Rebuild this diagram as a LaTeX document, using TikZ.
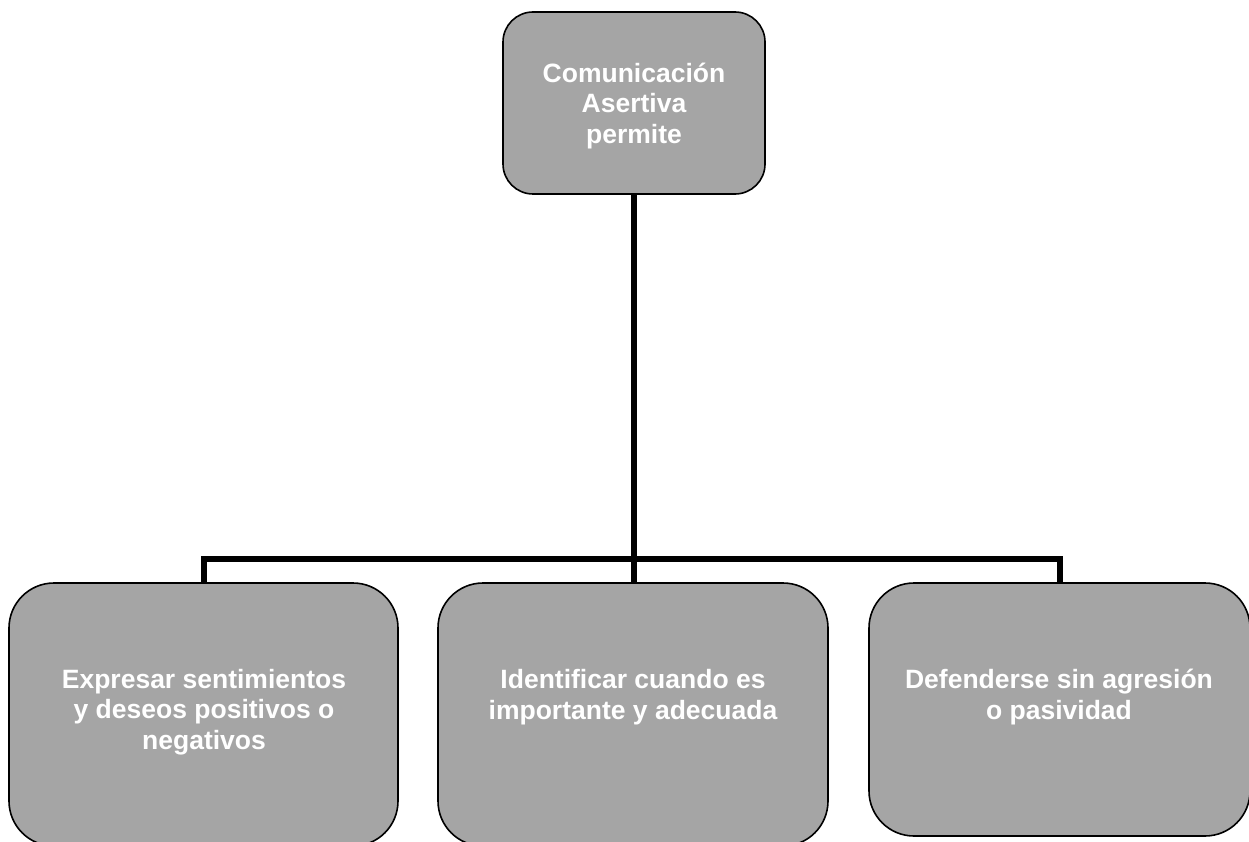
\documentclass[tikz,border=0pt]{standalone}
\usepackage{fontspec}
\setmainfont{Liberation Sans}
\definecolor{cajagris}{HTML}{A5A5A5}
\tikzset{
  caja/.style={draw=black, line width=1.6pt, fill=cajagris, inner sep=0pt,
               rounded corners=#1},
  caja/.default=45pt,
  texto/.style={text=white, align=center, inner sep=0pt,
                font=\bfseries\fontsize{26.5}{30.5}\selectfont},
  conector/.style={draw=black, line width=6pt}
}

\begin{document}
\begin{tikzpicture}[x=1pt, y=-1pt]

    \useasboundingbox (0,0) rectangle (1249,842);
    \clip (0,0) rectangle (1249,842);

    % cajas
    \node[caja=30pt, minimum width=262pt, minimum height=182pt] (raiz) at (634,103) {};
    \node[caja, minimum width=389pt, minimum height=263pt] (expresar)     at (203.5,714.5) {};
    \node[caja, minimum width=390pt, minimum height=263pt] (identificar)  at (633,714.5) {};
    \node[caja, minimum width=381pt, minimum height=253pt] (defenderse)   at (1059.5,709.5) {};

    % textos
    \node[texto] (traiz) at (raiz.center) [yshift=-3pt] {Comunicación\\Asertiva\\permite};
    \node[texto] (texpresar) at (204,712) {Expresar sentimientos\\y deseos positivos o\\negativos};
    \node[texto] (tidentificar) at (633,697) {Identificar cuando es\\importante y adecuada};
    \node[texto] (tdefenderse) at (1059,697) {Defenderse sin agresión\\o pasividad};

    % conectores
    \coordinate (barra) at (634,559);
    \draw[conector] (raiz.south) -- (raiz.south |- identificar.north);
    \draw[conector] (expresar.north) -- (expresar.north |- barra)
        -- (defenderse.north |- barra) -- (defenderse.north);

\end{tikzpicture}
\end{document}
